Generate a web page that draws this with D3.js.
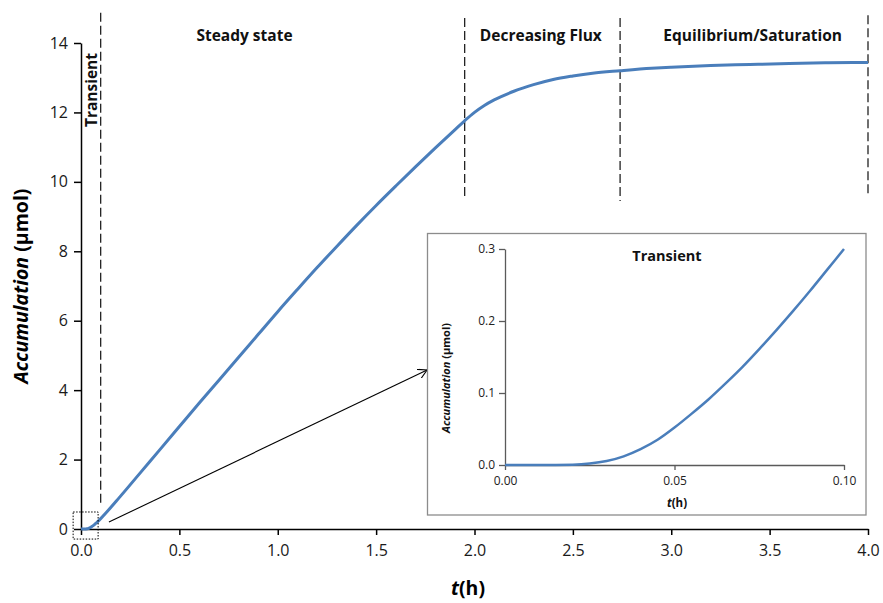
<!DOCTYPE html>
<html><head><meta charset="utf-8">
<script src="https://cdn.jsdelivr.net/npm/d3@7"></script>
<style>
html,body{margin:0;padding:0;background:#fff;}
svg text{font-family:"Open Sans","DejaVu Sans",sans-serif;}
</style></head>
<body><svg id="c" width="883" height="603"></svg>
<script>
// ---- data ----
const tValues = [0, 0.01, 0.02, 0.025, 0.03, 0.035, 0.04, 0.045, 0.05, 0.055, 0.06, 0.065, 0.07, 0.075, 0.08, 0.085, 0.09, 0.095, 0.10,
  0.2, 0.3, 0.4, 0.5, 0.6, 0.7, 0.8, 0.9, 1.0, 1.1, 1.2, 1.3, 1.4, 1.5, 1.6, 1.7, 1.8, 1.9, 1.95,
  2.0, 2.05, 2.1, 2.2, 2.3, 2.4, 2.5, 2.6, 2.74, 2.9, 3.0, 3.2, 3.4, 3.6, 3.8, 4.0];
const accValues = [0, 0, 0.0005, 0.002, 0.0055, 0.012, 0.022, 0.035, 0.052, 0.071, 0.091, 0.113, 0.136, 0.161, 0.187, 0.214, 0.242, 0.271, 0.300,
  0.94, 1.61, 2.28, 2.95, 3.62, 4.28, 4.94, 5.6, 6.26, 6.9, 7.53, 8.14, 8.74, 9.32, 9.88, 10.43, 10.97, 11.5, 11.76,
  12.0, 12.2, 12.36, 12.61, 12.8, 12.95, 13.05, 13.13, 13.2, 13.27, 13.3, 13.35, 13.38, 13.41, 13.43, 13.44];
const xTicks = [0, 0.5, 1.0, 1.5, 2.0, 2.5, 3.0, 3.5, 4.0];
const yTicks = [0, 2, 4, 6, 8, 10, 12, 14];
const insetXTicks = [0, 0.05, 0.10];
const insetYTicks = [0, 0.1, 0.2, 0.3];
// phase boundaries (t) with their vertical extent (µmol)
const phaseT = [0.1, 1.95, 2.74, 4.0];
const phaseTop = [14.87, 14.72, 14.72, 14.8];
const phaseBottom = [0.75, 9.5, 9.45, 9.6];
const phaseLabels = ["Steady state", "Decreasing Flux", "Equilibrium/Saturation"];
const phaseLabelT = [0.831, 2.337, 3.414];

const svg = d3.select("#c");
const data = tValues.map((t, i) => ({t, v: accValues[i]}));
const blue = "#4a7ebb";

// ---- main scales ----
const x = d3.scaleLinear().domain([0, 4]).range([81, 868]);
const y = d3.scaleLinear().domain([0, 14]).range([529, 43]);

const xAx = svg.append("g").attr("transform", `translate(0,${y(0)})`)
  .call(d3.axisBottom(x).tickValues(xTicks).tickFormat(d3.format(".1f")).tickSize(6).tickSizeOuter(0).tickPadding(7));
const yAx = svg.append("g").attr("transform", `translate(${x(0)},0)`)
  .call(d3.axisLeft(y).tickValues(yTicks).tickFormat(d3.format("d")).tickSize(7).tickSizeOuter(0).tickPadding(6));
[xAx, yAx].forEach(g => {
  g.selectAll("path,line").attr("stroke", "#000").attr("stroke-width", 1.5);
  g.selectAll("text").attr("font-size", 16).attr("fill", "#1a1a1a").attr("font-family", "Open Sans");
});
xAx.selectAll("text").attr("dy", "0.85em");

// phase dashed lines
phaseT.forEach((t, i) => {
  svg.append("line").attr("x1", x(t)).attr("x2", x(t))
    .attr("y1", y(phaseTop[i])).attr("y2", y(phaseBottom[i]))
    .attr("stroke", "#222").attr("stroke-width", 1.3).attr("stroke-dasharray", "9,4");
});
phaseLabels.forEach((s, i) => {
  svg.append("text").attr("x", x(phaseLabelT[i])).attr("y", 41).attr("text-anchor", "middle")
    .attr("font-size", 15.5).attr("font-weight", "bold").attr("fill", "#111").text(s);
});
svg.append("text").attr("transform", `translate(97,90) rotate(-90)`).attr("text-anchor", "middle")
  .attr("font-size", 15.5).attr("font-weight", "bold").attr("fill", "#111").text("Transient");

// main curve
const line = d3.line().x(d => x(d.t)).y(d => y(d.v)).curve(d3.curveMonotoneX);
svg.append("path").datum(data).attr("d", line).attr("fill", "none")
  .attr("stroke", blue).attr("stroke-width", 3);

// dotted zoom box
svg.append("rect").attr("x", x(-0.04)).attr("y", y(0.49))
  .attr("width", x(0.087) - x(-0.04)).attr("height", y(-0.29) - y(0.49))
  .attr("fill", "none").attr("stroke", "#000").attr("stroke-width", 1).attr("stroke-dasharray", "1.5,1.5");

// arrow
svg.append("defs").append("marker").attr("id", "ah").attr("viewBox", "0 0 10 10")
  .attr("refX", 9).attr("refY", 5).attr("markerWidth", 10).attr("markerHeight", 10)
  .attr("markerUnits", "userSpaceOnUse").attr("orient", "auto")
  .append("path").attr("d", "M0,0 L9,5 L0,10").attr("fill", "none").attr("stroke", "#000").attr("stroke-width", 1.1);
svg.append("line").attr("x1", x(0.142)).attr("y1", y(0.2)).attr("x2", x(1.759)).attr("y2", y(4.58))
  .attr("stroke", "#000").attr("stroke-width", 1.1).attr("marker-end", "url(#ah)");

// axis titles
const yt = svg.append("text").attr("transform", "translate(28,286) rotate(-90)").attr("text-anchor", "middle")
  .attr("font-size", 19.5).attr("font-weight", "bold").attr("fill", "#000");
yt.append("tspan").attr("font-style", "italic").text("Accumulation");
yt.append("tspan").text(" (µmol)");
const xt = svg.append("text").attr("x", 468).attr("y", 595).attr("text-anchor", "middle")
  .attr("font-size", 19.5).attr("font-weight", "bold").attr("fill", "#000");
xt.append("tspan").attr("font-style", "italic").text("t");
xt.append("tspan").text("(h)");

// ---- inset ----
svg.append("rect").attr("x", 427.5).attr("y", 233.5).attr("width", 438.5).attr("height", 281.5)
  .attr("fill", "#fff").attr("stroke", "#8c8c8c").attr("stroke-width", 1.3);
const ix = d3.scaleLinear().domain([0, 0.1]).range([505, 844]);
const iy = d3.scaleLinear().domain([0, 0.3]).range([465, 249]);
const ixAx = svg.append("g").attr("transform", `translate(0,${iy(0)})`)
  .call(d3.axisBottom(ix).tickValues(insetXTicks).tickFormat(d3.format(".2f")).tickSize(5).tickSizeOuter(0).tickPadding(6));
const iyAx = svg.append("g").attr("transform", `translate(${ix(0)},0)`)
  .call(d3.axisLeft(iy).tickValues(insetYTicks).tickFormat(d3.format(".1f")).tickSize(6).tickSizeOuter(0).tickPadding(4));
[ixAx, iyAx].forEach(g => {
  g.selectAll("path,line").attr("stroke", "#5a5a5a").attr("stroke-width", 1.3);
  g.selectAll("text").attr("font-size", 12).attr("fill", "#222").attr("font-family", "Open Sans");
});
const inData = data.filter(d => d.t <= 0.1);
const iline = d3.line().x(d => ix(d.t)).y(d => iy(d.v)).curve(d3.curveMonotoneX);
svg.append("path").datum(inData).attr("d", iline).attr("fill", "none")
  .attr("stroke", blue).attr("stroke-width", 2.5);
svg.append("text").attr("x", 667).attr("y", 261).attr("text-anchor", "middle")
  .attr("font-size", 14.5).attr("font-weight", "bold").attr("fill", "#111").text("Transient");
const iyt = svg.append("text").attr("transform", "translate(450,378) rotate(-90)").attr("text-anchor", "middle")
  .attr("font-size", 11).attr("font-weight", "bold").attr("fill", "#111");
iyt.append("tspan").attr("font-style", "italic").text("Accumulation");
iyt.append("tspan").text(" (µmol)");
const ixt = svg.append("text").attr("x", 677).attr("y", 507).attr("text-anchor", "middle")
  .attr("font-size", 11.5).attr("font-weight", "bold").attr("fill", "#111");
ixt.append("tspan").attr("font-style", "italic").text("t");
ixt.append("tspan").text("(h)");
</script></body></html>
